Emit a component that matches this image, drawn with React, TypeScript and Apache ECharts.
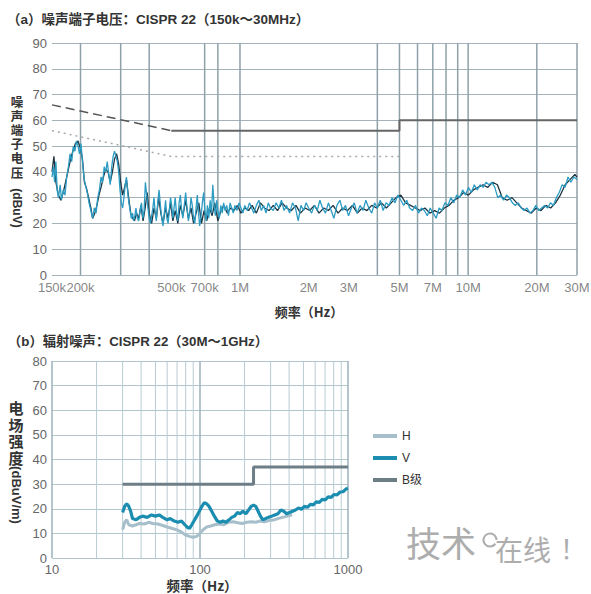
import React, { useEffect, useRef } from 'react';
import * as echarts from 'echarts';

const titleA = '（a）噪声端子电压：CISPR 22（150k～30MHz）';
const titleB = '（b）辐射噪声：CISPR 22（30M～1GHz）';
const yNameA = ['噪', '声', '端', '子', '电', '压'];
const yUnitA = '(dBuV)';
const yNameB = ['电', '场', '强', '度'];
const yUnitB = '(dBuV/m)';
const xName = '频率（Hz）';

// chart (a) axis ticks
const aTickFreqs = [150e3, 200e3, 500e3, 700e3, 1e6, 2e6, 3e6, 5e6, 7e6, 10e6, 20e6, 30e6];
const aTickLabels = ['150k', '200k', '500k', '700k', '1M', '2M', '3M', '5M', '7M', '10M', '20M', '30M'];
const aGridFreqs = [200e3, 300e3, 400e3, 700e3, 800e3, 1e6, 4e6, 5e6, 6e6, 7e6, 8e6, 9e6, 10e6, 20e6, 30e6];
// chart (b) minor vertical grid
const bMinorFreqs = [20, 30, 40, 50, 60, 70, 80, 90, 200, 300, 400, 500, 600, 700, 800, 900];

// limits (a)
const qpSlope = [[150e3, 66], [500e3, 56]];
const qpFlat = [[500e3, 56], [5e6, 56], [5e6, 60], [30e6, 60]];
const avgLimit = [[150e3, 56], [500e3, 46], [5e6, 46]];

// traces (a): [kHz, dBuV]
const tealTrace = [
  [150, 38], [152, 42], [154, 36], [156, 44], [158, 33], [160, 30], [163, 35], [165, 29], [168, 33], [171, 31],
  [174, 38], [177, 42], [180, 47], [183, 44], [186, 50], [189, 48], [192, 52], [195, 50], [198, 47], [201, 51],
  [204, 44], [207, 38], [210, 35], [214, 32], [218, 28], [222, 25], [226, 22], [230, 26], [234, 24], [238, 30],
  [242, 33], [246, 38], [250, 36], [254, 42], [258, 40], [262, 44], [266, 39], [270, 35], [274, 42], [278, 46],
  [282, 48], [286, 46], [290, 44], [294, 40], [298, 33], [302, 28], [306, 26], [310, 30], [314, 35], [318, 38],
  [322, 32], [326, 28], [330, 25], [334, 22], [338, 24], [342, 21], [346, 23], [350, 26], [355, 22], [360, 21],
  [365, 25], [370, 28], [375, 22], [380, 25], [385, 36], [390, 31], [395, 26], [400, 22], [405, 20], [410, 23],
  [415, 26], [420, 30], [425, 24], [430, 21], [436, 28], [442, 33], [448, 27], [454, 22], [460, 19], [466, 24],
  [472, 29], [478, 22], [484, 20], [490, 25], [496, 30], [502, 27], [508, 22], [514, 26], [520, 30], [527, 24],
  [534, 21], [541, 28], [548, 31], [555, 25], [562, 22], [570, 27], [578, 32], [586, 26], [594, 21], [602, 24],
  [610, 30], [618, 27], [626, 22], [634, 20], [642, 26], [650, 31], [658, 24], [666, 19], [675, 23], [684, 28],
  [693, 32], [702, 25], [711, 21], [720, 27], [730, 22], [740, 29], [750, 24], [760, 35], [770, 27], [780, 23],
  [790, 29], [800, 25], [812, 22], [824, 27], [836, 24], [848, 28], [860, 25], [875, 27], [890, 23], [905, 28],
  [920, 26], [935, 24], [950, 27], [970, 25], [990, 28], [1010, 26], [1030, 24], [1050, 27], [1075, 25], [1100, 28],
  [1125, 26], [1150, 24], [1180, 27], [1210, 29], [1240, 25], [1270, 27], [1300, 24], [1330, 28], [1360, 26], [1400, 25],
  [1440, 28], [1480, 26], [1520, 29], [1560, 25], [1600, 27], [1650, 24], [1700, 28], [1750, 26], [1800, 21], [1850, 27],
  [1900, 25], [1950, 28], [2000, 26], [2060, 24], [2120, 27], [2180, 25], [2240, 29], [2300, 26], [2370, 24], [2440, 28],
  [2510, 25], [2580, 22], [2660, 27], [2740, 29], [2820, 25], [2900, 27], [2990, 23], [3080, 26], [3170, 28], [3260, 24],
  [3360, 27], [3460, 25], [3560, 29], [3670, 26], [3780, 24], [3890, 28], [4000, 26], [4120, 29], [4240, 25], [4370, 28],
  [4500, 27], [4640, 30], [4780, 28], [4920, 31], [5070, 29], [5220, 27], [5380, 29], [5540, 26], [5710, 25], [5880, 27],
  [6060, 24], [6240, 26], [6430, 25], [6620, 23], [6820, 26], [7030, 24], [7240, 22], [7460, 26], [7680, 25], [7910, 28],
  [8150, 27], [8400, 30], [8650, 28], [8910, 31], [9180, 30], [9460, 33], [9740, 31], [10030, 34], [10330, 32], [10640, 35],
  [10960, 33], [11290, 35], [11630, 34], [11980, 36], [12340, 35], [12710, 36], [13090, 34], [13480, 30], [13890, 31], [14300, 29],
  [14730, 31], [15170, 30], [15630, 28], [16100, 27], [16580, 28], [17080, 26], [17590, 25], [18120, 26], [18660, 24], [19220, 25],
  [19800, 27], [20390, 25], [21000, 26], [21630, 27], [22280, 26], [22950, 28], [23640, 27], [24350, 30], [25080, 32], [25830, 35],
  [26600, 34], [27400, 38], [28220, 36], [29070, 38], [30000, 37],
];

const darkTrace = [
  [150, 40], [153, 46], [156, 36], [160, 31], [164, 29], [168, 32], [172, 36], [176, 40], [180, 44], [185, 48],
  [190, 51], [195, 52], [200, 49], [204, 45], [208, 36], [212, 34], [217, 30], [222, 26], [226, 22], [231, 24],
  [236, 27], [241, 31], [246, 34], [252, 38], [258, 41], [264, 40], [270, 36], [276, 40], [282, 45], [288, 47],
  [294, 43], [300, 36], [306, 31], [312, 34], [318, 37], [325, 30], [332, 24], [338, 22], [345, 21], [352, 24],
  [360, 22], [368, 27], [376, 21], [384, 26], [392, 32], [400, 24], [410, 20], [420, 26], [430, 22], [440, 30],
  [450, 24], [460, 20], [472, 26], [484, 22], [496, 28], [508, 21], [520, 25], [534, 20], [548, 27], [562, 23],
  [578, 29], [594, 22], [610, 26], [626, 20], [642, 24], [660, 28], [678, 20], [696, 25], [715, 21], [735, 26],
  [755, 23], [775, 28], [800, 21], [825, 25], [850, 27], [880, 24], [910, 26], [940, 25], [975, 27], [1010, 24],
  [1050, 26], [1090, 25], [1130, 27], [1180, 24], [1230, 28], [1280, 26], [1340, 25], [1400, 27], [1460, 25], [1530, 28],
  [1600, 26], [1680, 25], [1760, 27], [1840, 24], [1930, 26], [2020, 25], [2120, 27], [2220, 24], [2330, 26], [2440, 25],
  [2560, 27], [2690, 24], [2820, 26], [2960, 25], [3110, 27], [3270, 24], [3430, 26], [3600, 25], [3780, 27], [3970, 26],
  [4170, 28], [4380, 26], [4600, 28], [4830, 30], [5070, 31], [5320, 28], [5590, 27], [5870, 26], [6160, 25], [6470, 26],
  [6790, 24], [7130, 25], [7490, 24], [7860, 26], [8250, 27], [8660, 29], [9090, 30], [9550, 32], [10030, 31], [10530, 33],
  [11060, 34], [11610, 35], [12190, 34], [12800, 36], [13440, 35], [14110, 30], [14820, 29], [15560, 30], [16340, 28], [17160, 26],
  [18020, 25], [18920, 24], [19870, 26], [20860, 25], [21900, 27], [23000, 26], [24150, 28], [25360, 31], [26630, 35], [27960, 37],
  [29360, 39], [30000, 38],
];

// chart (b): frequency in MHz (axis shows 10..1000)
const hFreq = [30, 31, 32, 33, 35, 37, 39, 42, 45, 48, 52, 56, 60, 65, 70, 75, 80, 85, 90, 95,
  100, 105, 111, 118, 126, 135, 145, 156, 168, 180, 193, 207, 222, 238, 255, 273, 292, 313, 335, 360, 390, 420];
const hVal = [11.5, 14.5, 15.5, 13.5, 13, 13.5, 14, 13.8, 14.5, 14, 13.8, 13.2, 12.6, 12, 11.4, 10.5, 9.3, 8.8, 8.4, 8.8,
  10, 11.5, 12.6, 13, 13.5, 13.8, 13.5, 14.5, 14.7, 14.3, 14, 14.5, 14.7, 14.5, 15, 14.7, 15.2, 15.4, 16, 16.5, 17, 17.5];
const vFreq = [30, 31, 32, 33, 34, 35, 37, 39, 41, 44, 47, 50, 53, 56, 60, 63, 67, 71, 75, 79,
  82, 85, 88, 91, 95, 99, 103, 107, 111, 115, 120, 125, 131, 137, 143, 150, 157, 164, 171, 179,
  187, 195, 204, 213, 222, 230, 238, 247, 256, 266, 277, 290, 305, 320, 336, 352, 368, 385, 403, 422,
  442, 463, 485, 508, 532, 557, 583, 611, 640, 670, 702, 735, 770, 806, 844, 884, 925, 968, 1000];
const vVal = [18.5, 21, 22, 21, 19, 16, 15.5, 16.5, 17, 16.5, 17.5, 17, 17.5, 16.5, 15.5, 16, 15, 14.5, 15, 13.5,
  12.5, 12, 13.5, 15, 17, 19, 21, 22.5, 22, 21, 19, 17, 15, 14.5, 15, 14.5, 15.5, 16.5, 17, 18.5,
  18, 19, 18, 19.5, 21, 21.5, 21, 19, 17, 15.5, 16, 16.5, 17, 17.5, 18, 19.5, 19, 18, 18.5, 19,
  19.5, 20.3, 19.8, 21, 20.6, 21.8, 21.6, 22.8, 22.6, 23.8, 23.6, 24.8, 24.6, 25.8, 25.6, 26.8, 26.9, 28, 28.3];
const classB = [[30, 30], [230, 30], [230, 37], [1000, 37]];

const FONT = '"Liberation Sans", "Noto Sans CJK SC", sans-serif';
const CJK = '"Noto Sans CJK SC", sans-serif';

function buildOption(): any {
  const series: any[] = [];
  // vertical grid lines (a)
  aGridFreqs.forEach((f) => {
    series.push({
      type: 'line', xAxisIndex: 0, yAxisIndex: 0, data: [[f, 0], [f, 90]], symbol: 'none', silent: true, z: 1,
      lineStyle: { color: '#8ea1a9', width: 1.5 }, clip: false,
    });
  });
  // minor vertical grid lines (b)
  bMinorFreqs.forEach((f) => {
    series.push({
      type: 'line', xAxisIndex: 1, yAxisIndex: 1, data: [[f, 0], [f, 80]], symbol: 'none', silent: true, z: 1,
      lineStyle: { color: '#b9cbd3', width: 1 },
    });
  });
  // tick labels (a)
  series.push({
    type: 'scatter', xAxisIndex: 0, yAxisIndex: 0, data: aTickFreqs.map((f) => [f, 0]), symbolSize: 1,
    itemStyle: { color: 'transparent' }, silent: true, clip: false, z: 3,
    label: { show: true, position: 'bottom', distance: 5, color: '#666', fontSize: 13, fontFamily: FONT,
      formatter: (p: any) => aTickLabels[p.dataIndex] },
  });
  // limits (a)
  series.push({ type: 'line', xAxisIndex: 0, yAxisIndex: 0, data: avgLimit, symbol: 'none', silent: true, z: 2,
    lineStyle: { color: '#a8a8a8', width: 1.5, type: [2, 4] } });
  series.push({ type: 'line', xAxisIndex: 0, yAxisIndex: 0, data: qpSlope, symbol: 'none', silent: true, z: 2,
    lineStyle: { color: '#555', width: 1.5, type: [9, 5] } });
  series.push({ type: 'line', xAxisIndex: 0, yAxisIndex: 0, data: qpFlat, symbol: 'none', silent: true, z: 2,
    lineStyle: { color: '#666', width: 2 } });
  // traces (a)
  series.push({ type: 'line', name: 'dark', xAxisIndex: 0, yAxisIndex: 0, symbol: 'none', silent: true, z: 3,
    data: darkTrace.map(([k, v]) => [k * 1000, v]), lineStyle: { color: '#1d3442', width: 1.3 } });
  series.push({ type: 'line', name: 'teal', xAxisIndex: 0, yAxisIndex: 0, symbol: 'none', silent: true, z: 3,
    data: tealTrace.map(([k, v]) => [k * 1000, v]), lineStyle: { color: '#2c9cc3', width: 1.3 } });
  // chart (b)
  series.push({ type: 'line', name: 'H', xAxisIndex: 1, yAxisIndex: 1, symbol: 'none', z: 3, color: '#a6bfca',
    data: hFreq.map((f, i) => [f, hVal[i]]), lineStyle: { color: '#a6bfca', width: 3 } });
  series.push({ type: 'line', name: 'V', xAxisIndex: 1, yAxisIndex: 1, symbol: 'none', z: 3, color: '#1a8db0',
    data: vFreq.map((f, i) => [f, vVal[i]]), lineStyle: { color: '#1a8db0', width: 3.2 } });
  series.push({ type: 'line', name: 'B级', xAxisIndex: 1, yAxisIndex: 1, symbol: 'none', z: 3, color: '#6e7e86',
    data: classB, lineStyle: { color: '#6e7e86', width: 3 } });

  const yLabel = { color: '#666', fontSize: 13, fontFamily: FONT, margin: 5 };

  return {
    animation: false,
    backgroundColor: '#fff',
    textStyle: { fontFamily: FONT },
    grid: [
      { left: 52, top: 43, width: 525, height: 232 },
      { left: 52, top: 361, width: 296, height: 197 },
    ],
    xAxis: [
      { type: 'log', gridIndex: 0, min: 150e3, max: 30e6, logBase: 10,
        axisLabel: { show: false }, axisTick: { show: false }, axisLine: { show: false }, splitLine: { show: false } },
      { type: 'log', gridIndex: 1, min: 10, max: 1000, logBase: 10,
        axisLabel: { show: true, color: '#666', fontSize: 13, fontFamily: FONT, margin: 5, showMaxLabel: true, showMinLabel: true,
          formatter: (v: number) => String(Math.round(v)) },
        axisTick: { show: false }, axisLine: { show: false },
        splitLine: { show: true, lineStyle: { color: '#9cb2bc', width: 1.5 } } },
    ],
    yAxis: [
      { type: 'value', gridIndex: 0, min: 0, max: 90, interval: 10, axisLabel: yLabel,
        axisTick: { show: false }, axisLine: { show: false },
        splitLine: { show: true, lineStyle: { color: '#a4b3b9', width: 1.2 } } },
      { type: 'value', gridIndex: 1, min: 0, max: 80, interval: 10, axisLabel: yLabel,
        axisTick: { show: false }, axisLine: { show: false },
        splitLine: { show: true, lineStyle: { color: '#b3c6ce', width: 1.2 } } },
    ],
    legend: {
      data: ['H', 'V', 'B级'], orient: 'vertical', left: 368, top: 425, icon: 'rect',
      itemWidth: 24, itemHeight: 4, itemGap: 10, selectedMode: false,
      textStyle: { fontSize: 12, color: '#333', fontFamily: FONT },
    },
    graphic: [
      { type: 'text', left: 7, top: 13, style: { text: titleA, fill: '#333', font: `bold 13.5px ${FONT}` } },
      { type: 'text', left: 8, top: 335, style: { text: titleB, fill: '#333', font: `bold 13.3px ${FONT}` } },
      { type: 'text', x: 17, y: 94,
        style: { text: yNameA.join('\n'), font: `bold 12.5px ${CJK}`, lineHeight: 14.2, fill: '#333', align: 'center', verticalAlign: 'top' } },
      { type: 'text', x: 17, y: 208, rotation: -Math.PI / 2,
        style: { text: yUnitA, font: `bold 12px ${FONT}`, fill: '#333', align: 'center', verticalAlign: 'middle' } },
      { type: 'text', x: 16, y: 399,
        style: { text: yNameB.join('\n'), font: `bold 15px ${CJK}`, lineHeight: 16.7, fill: '#333', align: 'center', verticalAlign: 'top' } },
      { type: 'text', x: 16, y: 495, rotation: -Math.PI / 2,
        style: { text: yUnitB, font: `bold 13px ${FONT}`, fill: '#333', align: 'center', verticalAlign: 'middle' } },
      { type: 'text', x: 309, y: 311,
        style: { text: xName, font: `bold 13px ${CJK}`, fill: '#333', align: 'center', verticalAlign: 'middle' } },
      { type: 'text', x: 202, y: 585,
        style: { text: xName, font: `bold 13.5px ${CJK}`, fill: '#333', align: 'center', verticalAlign: 'middle' } },
      // watermark
      { type: 'text', x: 406, y: 541,
        style: { text: '技术', font: `35px ${CJK}`, fill: '#adadad', align: 'left', verticalAlign: 'middle' } },
      { type: 'arc', shape: { cx: 490, cy: 540, r: 6.5, startAngle: 0.6, endAngle: Math.PI * 2 },
        style: { stroke: '#adadad', lineWidth: 2, fill: 'none' } },
      { type: 'text', x: 495, y: 549,
        style: { text: '在线', font: `28px ${CJK}`, fill: '#adadad', align: 'left', verticalAlign: 'middle' } },
      { type: 'text', x: 560, y: 547,
        style: { text: '！', font: `26px ${CJK}`, fill: '#adadad', align: 'left', verticalAlign: 'middle' } },
    ],
    series,
  };
}

export default function App() {
  const ref = useRef<HTMLDivElement>(null);
  useEffect(() => {
    const chart = echarts.init(ref.current!, null, { renderer: 'svg' });
    chart.setOption(buildOption());
    return () => chart.dispose();
  }, []);
  return (
    <div ref={ref} style={{ position: 'fixed', left: 0, top: 0, width: 591, height: 594, background: '#fff' }} />
  );
}
